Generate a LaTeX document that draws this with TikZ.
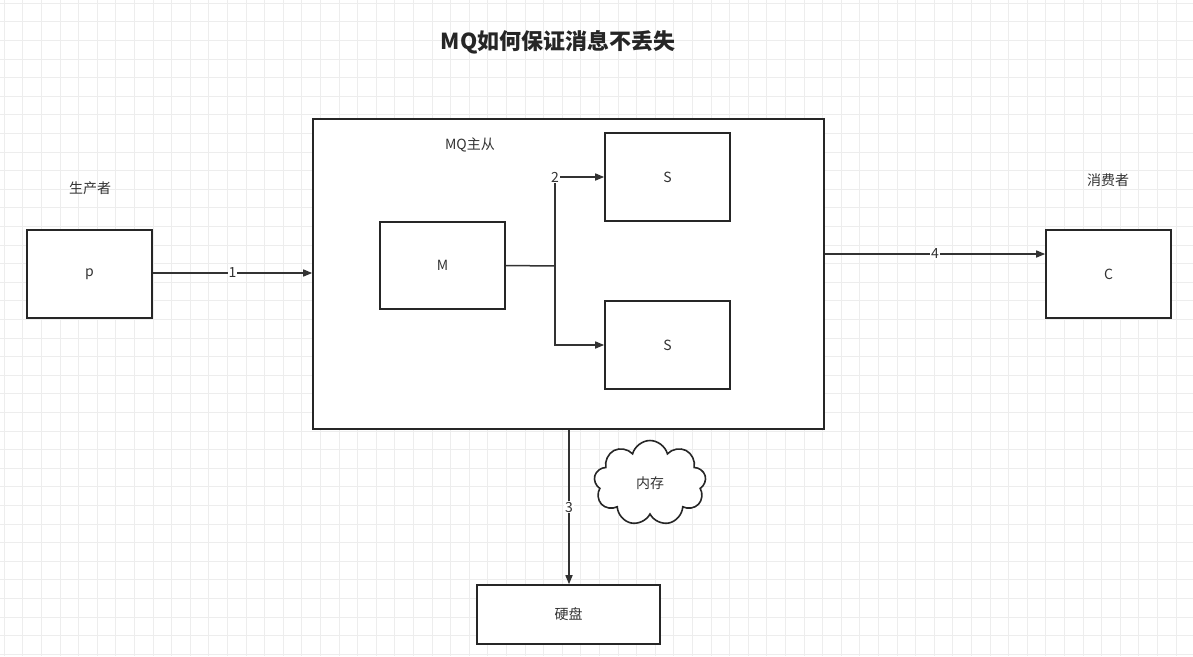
\documentclass[tikz,border=0pt]{standalone}
\usepackage{fontspec}
\setmainfont{Noto Sans CJK SC}
\usetikzlibrary{shapes.symbols,arrows.meta}
\begin{document}
\begin{tikzpicture}[x=1pt,y=-1pt,
  box/.style={draw=black!85,line width=1.6pt,fill=white,inner sep=0pt},
  txt/.style={font=\fontsize{14}{16}\selectfont,text=black!80},
  conn/.style={draw=black!80,line width=1.5pt,-{Triangle[length=9pt,width=7pt]}},
  lbl/.style={fill=white,inner sep=1pt,font=\fontsize{14}{16}\selectfont,text=black!80}]
\useasboundingbox (0,0) rectangle (1193,656);
\fill[white] (0,0) rectangle (1193,656);
\foreach \i in {0,...,64}{\draw[black!7,line width=0.6pt] ({\i*18.6+4},0) -- ({\i*18.6+4},656);}
\foreach \i in {0,...,36}{\draw[black!7,line width=0.6pt] (0,{\i*18.6+3}) -- (1193,{\i*18.6+3});}
\node[font=\fontsize{22}{26}\selectfont\bfseries,text=black!85] (title) at (558,42) {MQ如何保证消息不丢失};
\node[box,minimum width=125pt,minimum height=88pt,txt] (p) at (89.5,274) {p};
\node[box,minimum width=125pt,minimum height=88pt,txt] (c) at (1108.5,274) {C};
\node[box,minimum width=511pt,minimum height=310pt] (mq) at (568.5,274) {};
\node[box,minimum width=125pt,minimum height=87pt,txt] (m) at (442.5,265.5) {M};
\node[box,minimum width=125pt,minimum height=88pt,txt] (s1) at (667.5,177) {S};
\node[box,minimum width=125pt,minimum height=88pt,txt] (s2) at (667.5,345) {S};
\node[box,minimum width=183pt,minimum height=59pt,txt] (disk) at (568.5,614.5) {硬盘};
\node[txt] (lp) at (90,188) {生产者};
\node[txt] (lc) at (1108,180) {消费者};
\node[txt] (lmq) at (470,145) {MQ主从};
\node[cloud,cloud puffs=9,aspect=1.3,draw=black!85,line width=1.6pt,fill=white,minimum width=112pt,minimum height=85pt,txt] (mem) at (650,483) {内存};
\coordinate (j) at (555,266);
\draw[conn] (p.east|-0,273) -- node[lbl]{1} (mq.west|-0,273);
\draw[conn] (mq.east|-0,254) -- node[lbl,pos=0.5]{4} (c.west|-0,254);
\draw[draw=black!80,line width=1.5pt] (m.east) -- (j);
\draw[conn] (j) |- node[lbl,pos=0.5]{2} (s1.west);
\draw[conn] (j) |- (s2.west);
\draw[conn] (mq.south-|569,0) -- node[lbl,pos=0.5]{3} (disk.north-|569,0);
\end{tikzpicture}
\end{document}
